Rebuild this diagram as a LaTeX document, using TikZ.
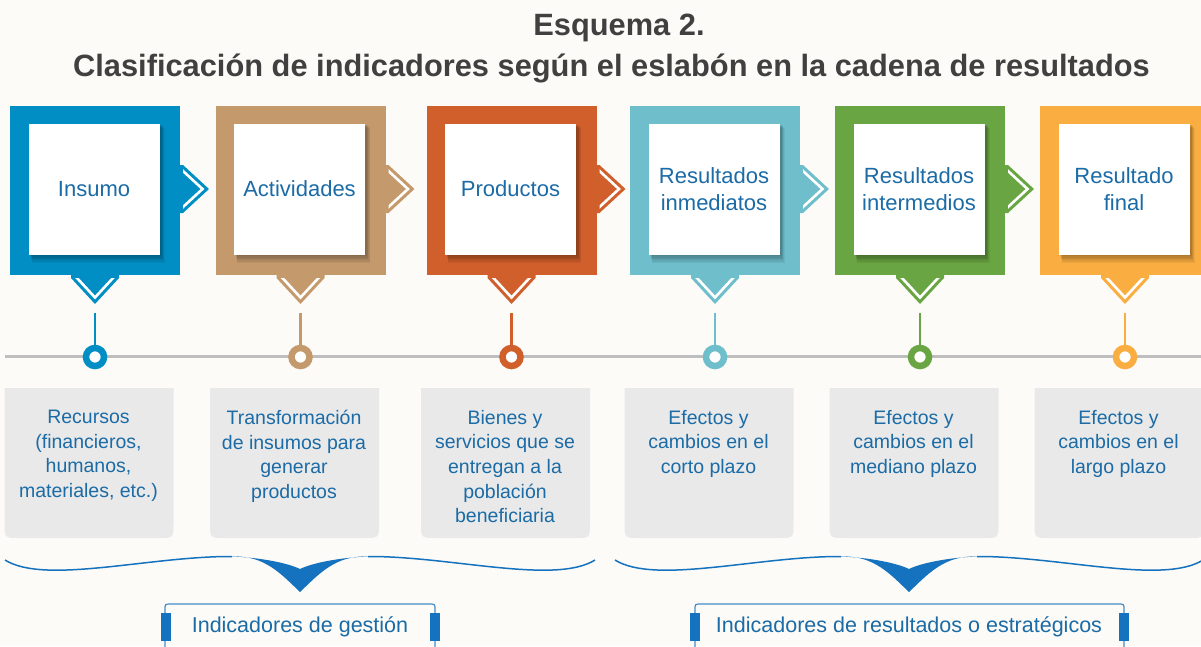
\documentclass[tikz,border=0pt]{standalone}
\usepackage{fontspec}
\setmainfont{Liberation Sans}
\usetikzlibrary{calc}
\definecolor{cblue}{RGB}{0,142,196}
\definecolor{cbrown}{RGB}{196,154,108}
\definecolor{corange}{RGB}{209,95,44}
\definecolor{cteal}{RGB}{110,190,203}
\definecolor{cgreen}{RGB}{106,165,67}
\definecolor{cyellow}{RGB}{250,174,66}
\definecolor{txt}{RGB}{27,107,166}
\definecolor{graybox}{RGB}{233,233,233}
\definecolor{gline}{RGB}{190,190,190}
\definecolor{bblue}{RGB}{21,114,190}
\definecolor{bline}{RGB}{70,140,200}
\definecolor{ttl}{RGB}{64,64,64}
\definecolor{bg}{RGB}{252,251,247}
\newcommand{\downchev}[2]{%
  \fill[#2] (#1-24,274) -- (#1+24,274) -- (#1+24,278) -- (#1,304) -- (#1-24,278) -- cycle;
  \begin{scope}
    \clip (#1-30,278) rectangle (#1+30,310);
    \draw[white, line width=2.6pt, miter limit=10] (#1-27,268.25) -- (#1,297.5) -- (#1+27,268.25);
  \end{scope}}
\newcommand{\rightchev}[3]{%
  \fill[#3] (#1-1,#2-24) -- (#1+3,#2-24) -- (#1+29,#2) -- (#1+3,#2+24) -- (#1-1,#2+24) -- cycle;
  \begin{scope}
    \clip (#1+3,#2-30) rectangle (#1+35,#2+30);
    \draw[white, line width=2.6pt, miter limit=10] (#1-6.75,#2-27) -- (#1+22.5,#2) -- (#1-6.75,#2+27);
  \end{scope}}
\newcommand{\bracemark}[2]{%
  \draw[bblue, line width=1.5pt] (#1-#2,560) .. controls (#1-#2+40,585) and (#1-150,556) .. (#1-68,556.5);
  \draw[bblue, line width=1.5pt] (#1+68,556.5) .. controls (#1+150,556) and (#1+#2-40,585) .. (#1+#2,560);
  \fill[bblue] (#1-68,556.5) .. controls (#1-35,555) and (#1-18,575) .. (#1,592)
     .. controls (#1+18,575) and (#1+35,555) .. (#1+68,556.5)
     .. controls (#1+40,557.5) and (#1+12,563) .. (#1,569)
     .. controls (#1-12,563) and (#1-40,557.5) .. (#1-68,556.5) -- cycle;}
\tikzset{
  blockbox/.style={minimum width=170pt, minimum height=169pt, inner sep=0pt, draw=none},
  whitebox/.style={fill=white, minimum width=131pt, minimum height=131pt, inner sep=0pt,
    text=txt, align=center, font=\fontsize{22}{27}\selectfont},
  desc/.style={anchor=north, inner sep=0pt, text=txt, align=center, font=\fontsize{19.5}{24.6}\selectfont},
  dot/.style={circle, fill=white, minimum size=18pt, inner sep=0pt, line width=6.5pt},
  lbl/.style={inner sep=0pt, text=txt, font=\fontsize{21.5}{26}\selectfont},
  ttlstyle/.style={anchor=base, inner sep=0pt, text=ttl, font=\bfseries\fontsize{30.8}{40}\selectfont}
}
\begin{document}
\begin{tikzpicture}[x=1pt,y=-1pt]
\useasboundingbox (0,0) rectangle (1201,646);
\fill[bg] (0,0) rectangle (1201,646);
% title
\node[ttlstyle] (t1) at (619,35) {Esquema 2.};
\node[ttlstyle] (t2) at (611.5,76) {Clasificación de indicadores según el eslabón en la cadena de resultados};
% gray line
\coordinate (gl) at (5,356);
\coordinate (gr) at (1201,356);
\draw[gline, line width=3pt] (gl) -- (gr);
% columns
\foreach \c/\col/\i/\txt/\dtxt in {
  95/cblue/1/Insumo/{Recursos\\(financieros,\\humanos,\\materiales, etc.)},
  300.5/cbrown/2/Actividades/{Transformación\\de insumos para\\generar\\productos},
  511.5/corange/3/Productos/{Bienes y\\servicios que se\\entregan a la\\población\\beneficiaria},
  715/cteal/4/{Resultados\\inmediatos}/{Efectos y\\cambios en el\\corto plazo},
  920/cgreen/5/{Resultados\\intermedios}/{Efectos y\\cambios en el\\mediano plazo},
  1125/cyellow/6/{Resultado\\final}/{Efectos y\\cambios en el\\largo plazo}}{
  \node[blockbox, fill=\col] (blk\i) at (\c,190.5) {};
  \ifnum\i<6 \rightchev{\c+85}{189}{\col}\fi
  \downchev{\c}{\col}
  % shadow of white square
  \foreach \k in {1,...,6}{
    \fill[black, opacity=0.055] (\c-65+0.3*\k,124+0.6*\k) rectangle (\c+66+0.6*\k,255+1.3*\k);
  }
  \node[whitebox] (w\i) at (\c-1,189) {\txt};
  % connector and dot
  \coordinate (v\i) at (\c,313);
  \node[dot, draw=\col] (p\i) at (\c,357) {};
  \draw[\col, line width=2.5pt] (v\i) -- (p\i.north);
  % description box
  \fill[graybox] (\c-90.5,388) -- (\c-90.5,523) .. controls (\c-90.5,538) .. (\c-75.5,538)
     -- (\c+63.5,538) .. controls (\c+78.5,538) .. (\c+78.5,523) -- (\c+78.5,388) -- cycle;
  \node[desc] (d\i) at (\c-6.5,410) {\dtxt};
}
% braces
\bracemark{300}{295}
\bracemark{909}{294}
% label boxes
\draw[bline, line width=1.2pt] (165,650) -- (165,610) .. controls (165,604) .. (171,604) -- (429,604) .. controls (435,604) .. (435,610) -- (435,650);
\fill[bblue] (161,613) rectangle (171,641);
\fill[bblue] (430,613) rectangle (440,641);
\node[lbl] (g1) at (300,627) {Indicadores de gestión};
\draw[bline, line width=1.2pt] (695,650) -- (695,610) .. controls (695,604) .. (701,604) -- (1118,604) .. controls (1124,604) .. (1124,610) -- (1124,650);
\fill[bblue] (690,613) rectangle (700,641);
\fill[bblue] (1119,613) rectangle (1129,641);
\node[lbl] (g2) at (909,627) {Indicadores de resultados o estratégicos};
\end{tikzpicture}
\end{document}
